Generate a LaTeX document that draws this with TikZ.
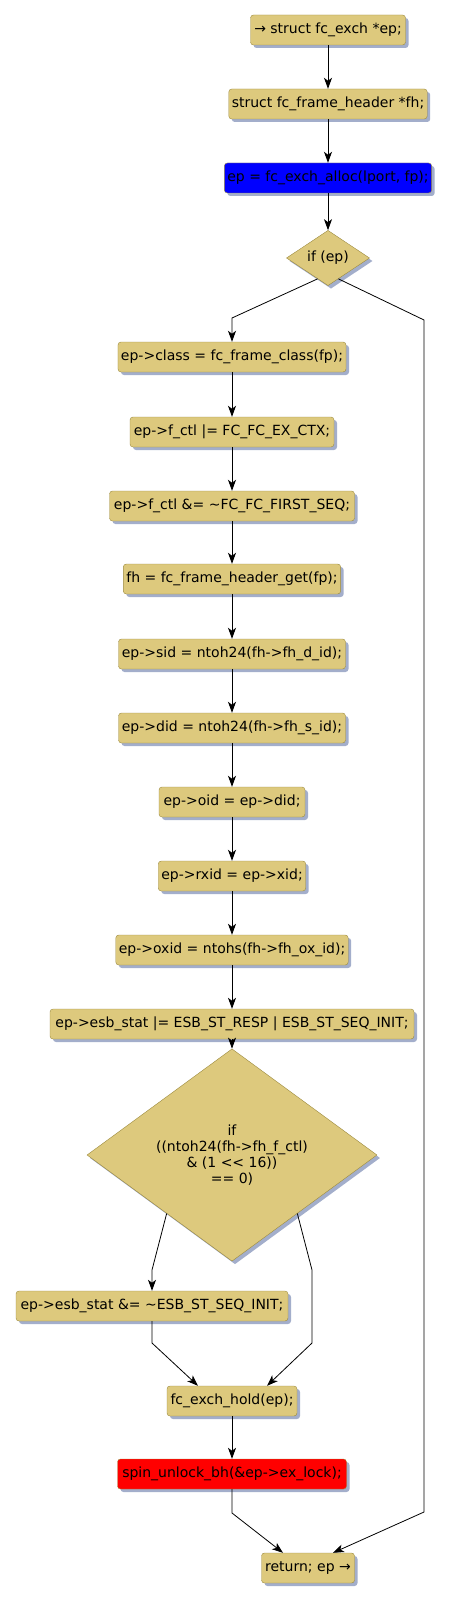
\documentclass[tikz,border=0pt]{standalone}
\usepackage{fontspec}
\setmainfont{DejaVu Sans}
\usetikzlibrary{shapes.geometric, arrows.meta, shadows, calc}
\definecolor{boxfill}{RGB}{221,201,125}
\definecolor{boxline}{RGB}{156,138,62}
\definecolor{boxshade}{RGB}{163,174,203}
\tikzset{
  stmt/.style={draw=boxline, fill=boxfill, rounded corners=3pt, minimum height=30pt, inner xsep=3pt,
    minimum width=#1, drop shadow={shadow xshift=3pt, shadow yshift=-3pt, fill=boxshade, opacity=1}},
  stmt/.default=20pt,
  cond/.style={diamond, draw=boxline, fill=boxfill, inner sep=0pt, align=center,
    drop shadow={shadow xshift=3pt, shadow yshift=-3pt, fill=boxshade, opacity=1}},
  flow/.style={-{Stealth[length=11pt, width=8pt, inset=3pt]}, black, line width=0.8pt}
}
\begin{document}
\begin{tikzpicture}[x=1pt, y=1pt, font=\fontsize{14}{16}\selectfont]
\useasboundingbox (0,0) rectangle (448,-1602);
% upper part
\node[stmt=155pt] (decl1) at (328,-30) {→ struct fc\_exch *ep;};
\node[stmt=197pt] (decl2) at (328,-104) {struct fc\_frame\_header *fh;};
\node[stmt=203pt, fill=blue] (alloc) at (328,-178) {ep = fc\_exch\_alloc(lport, fp);};
\node[cond, minimum width=83pt, minimum height=42pt] (ifep) at (328,-258) {if (ep)};
% main column
\node[stmt=227pt] (cls) at (232,-357) {ep->class = fc\_frame\_class(fp);};
\node[stmt=204pt] (fctl1) at (232,-432) {ep->f\_ctl |= FC\_FC\_EX\_CTX;};
\node[stmt=245pt] (fctl2) at (232,-506) {ep->f\_ctl \&= \textasciitilde FC\_FC\_FIRST\_SEQ;};
\node[stmt=214pt] (fhget) at (232,-579) {fh = fc\_frame\_header\_get(fp);};
\node[stmt=227pt] (sid) at (232,-654) {ep->sid = ntoh24(fh->fh\_d\_id);};
\node[stmt=227pt] (did) at (232,-728) {ep->did = ntoh24(fh->fh\_s\_id);};
\node[stmt=146pt] (oid) at (232,-802) {ep->oid = ep->did;};
\node[stmt=147pt] (rxid) at (232,-876) {ep->rxid = ep->xid;};
\node[stmt=231pt] (oxid) at (232,-950) {ep->oxid = ntohs(fh->fh\_ox\_id);};
\node[stmt=364pt] (esb1) at (232,-1024) {ep->esb\_stat |= ESB\_ST\_RESP | ESB\_ST\_SEQ\_INIT;};
\node[cond, minimum width=290pt, minimum height=144pt] (iffctl) at (232,-1155)
  {if\\((ntoh24(fh->fh\_f\_ctl)\\\& (1 <\kern0pt< 16))\\== 0)};
\node[stmt=272pt] (esb2) at (152,-1306) {ep->esb\_stat \&= \textasciitilde ESB\_ST\_SEQ\_INIT;};
\node[stmt=130pt] (hold) at (232,-1401) {fc\_exch\_hold(ep);};
\node[stmt=229pt, fill=red] (unlock) at (232,-1474) {spin\_unlock\_bh(\&ep->ex\_lock);};
\node[stmt=93pt] (ret) at (308,-1568) {return; ep →};
% bends
\coordinate (bl) at (232,-318);
\coordinate (br1) at (424,-320);
\coordinate (br2) at (424,-1512);
\coordinate (cl) at (152,-1270);
\coordinate (cr1) at (312,-1270);
\coordinate (cr2) at (312,-1343);
\coordinate (hl) at (152,-1343);
\coordinate (ul) at (232,-1513);
% connectors
\draw[flow] (decl1) -- (decl2);
\draw[flow] (decl2) -- (alloc);
\draw[flow] (alloc) -- (ifep);
\draw[flow] ($(ifep.south)!0.25!(ifep.west)$) -- (bl) -- (cls);
\draw[flow] ($(ifep.south)!0.25!(ifep.east)$) -- (br1) -- (br2) -- ([xshift=25pt]ret.north);
\draw[flow] (cls) -- (fctl1);
\draw[flow] (fctl1) -- (fctl2);
\draw[flow] (fctl2) -- (fhget);
\draw[flow] (fhget) -- (sid);
\draw[flow] (sid) -- (did);
\draw[flow] (did) -- (oid);
\draw[flow] (oid) -- (rxid);
\draw[flow] (rxid) -- (oxid);
\draw[flow] (oxid) -- (esb1);
\draw[flow] (esb1) -- (iffctl);
\draw[flow] ($(iffctl.west)!0.55!(iffctl.south)$) -- (cl) -- (esb2);
\draw[flow] ($(iffctl.east)!0.55!(iffctl.south)$) -- (cr1) -- (cr2) -- ([xshift=35pt]hold.north);
\draw[flow] (esb2) -- (hl) -- ([xshift=-34pt]hold.north);
\draw[flow] (hold) -- (unlock);
\draw[flow] (unlock) -- (ul) -- ([xshift=-25pt]ret.north);
\end{tikzpicture}
\end{document}
